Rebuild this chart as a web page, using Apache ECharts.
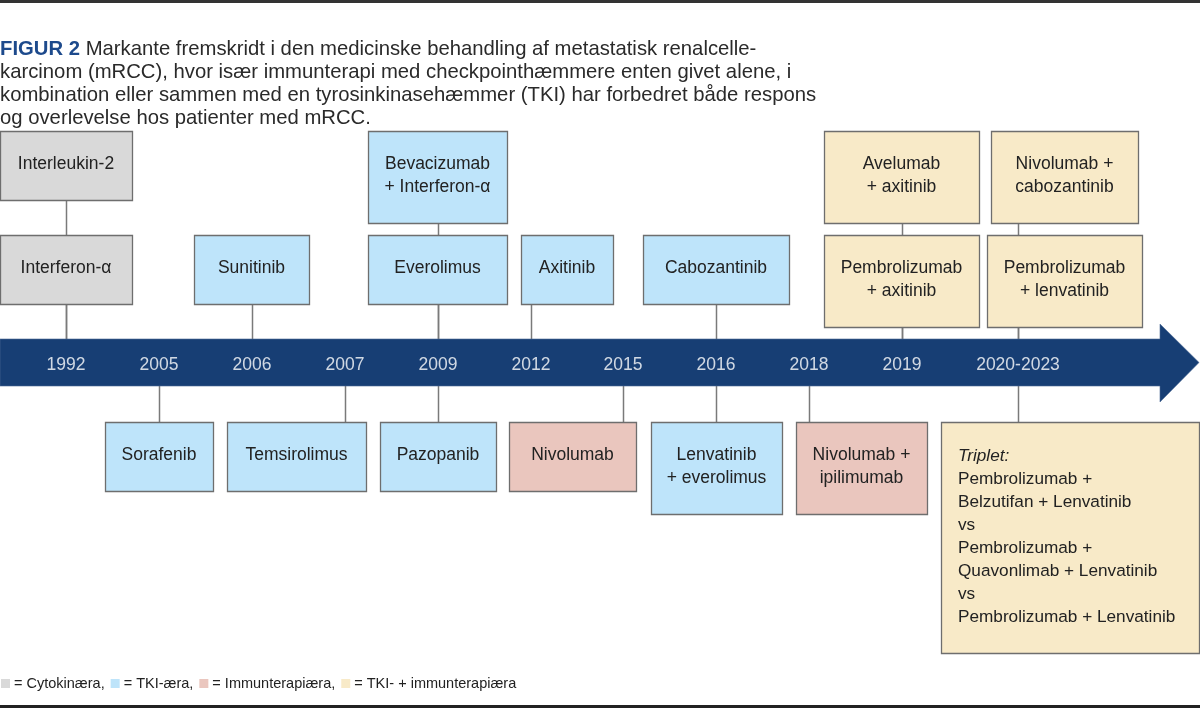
<!DOCTYPE html>
<html><head><meta charset="utf-8">
<script src="https://cdn.jsdelivr.net/npm/echarts@6/dist/echarts.min.js"></script>
<style>html,body{margin:0;padding:0;background:#fff}#c{width:1200px;height:708px}</style>
</head><body><div id="c"></div>
<script>
// ---------- data ----------
const years = ['1992','2005','2006','2007','2009','2012','2015','2016','2018','2019','2020-2023'];
const eras = ['Cytokinæra','TKI-æra','Immunterapiæra','TKI- + immunterapiæra'];
const treatments = [
  'Interleukin-2','Interferon-α','Sunitinib','Bevacizumab\n+ Interferon-α','Everolimus','Axitinib',
  'Cabozantinib','Avelumab\n+ axitinib','Pembrolizumab\n+ axitinib','Nivolumab +\ncabozantinib',
  'Pembrolizumab\n+ lenvatinib','Sorafenib','Temsirolimus','Pazopanib','Nivolumab',
  'Lenvatinib\n+ everolimus','Nivolumab +\nipilimumab',
  '{i|Triplet:}\nPembrolizumab +\nBelzutifan + Lenvatinib\nvs\nPembrolizumab +\nQuavonlimab + Lenvatinib\nvs\nPembrolizumab + Lenvatinib'
];
const treatmentYear = [0,0,2,4,4,5,7,9,9,10,10,1,3,4,6,7,8,10];
const treatmentEra  = [0,0,1,1,1,1,1,3,3,3,3,1,1,1,2,1,2,3];
const titleLines = [
  'Markante fremskridt i den medicinske behandling af metastatisk renalcelle-',
  'karcinom (mRCC), hvor især immunterapi med checkpointhæmmere enten givet alene, i',
  'kombination eller sammen med en tyrosinkinasehæmmer (TKI) har forbedret både respons',
  'og overlevelse hos patienter med mRCC.'
];

// ---------- layout (diagram units) ----------
const yearX = [66,159,252,345,438,531,623,716,809,902,1018];
const boxRect = [
  [0,131,132,200],[0,235,132,304],[194,235,309,304],[368,131,507,223],[368,235,507,304],
  [521,235,613,304],[643,235,789,304],[824,131,979,223],[824,235,979,327],[991,131,1138,223],
  [987,235,1142,327],[105,422,213,491],[227,422,366,491],[380,422,496,491],[509,422,636,491],
  [651,422,782,514],[796,422,927,514],[941,422,1199,653]
];
const arrow = {x0:0, x1:1160, top:339, bottom:386, headTop:324, headBottom:402, tip:1199};
const yearLabelY = 365;
const eraFill = ['#d9d9d9','#bee4fa','#eac6be','#f8eac8'];
const FONT = '"Liberation Sans", Arial, sans-serif';

// ---------- build ----------
const chart = echarts.init(document.getElementById('c'), null, {renderer:'canvas'});

const connectorData = treatments.map((t,i) => {
  const r = boxRect[i], x = yearX[treatmentYear[i]];
  return r[3] < arrow.top ? [x, r[3], arrow.top] : [x, arrow.bottom, r[1]];
});

const boxSeries = eras.map((era, e) => {
  const idx = treatments.map((t,i)=>i).filter(i => treatmentEra[i] === e);
  return {
    type:'custom', name: era, z: 3, silent: true,
    itemStyle:{color: eraFill[e]},
    data: idx.map(i => ({value: boxRect[i], name: treatments[i]})),
    renderItem: (params, api) => {
      const i = idx[params.dataIndex];
      const p0 = api.coord([api.value(0), api.value(1)]);
      const p1 = api.coord([api.value(2), api.value(3)]);
      const left = treatments[i].indexOf('{i|') === 0;
      const fs = left ? 17.2 : 17.5;
      return {
        type:'group', children:[
          {type:'rect', shape:{x:p0[0]+0.5, y:p0[1]+0.5, width:p1[0]-p0[0], height:p1[1]-p0[1]},
           style:{fill: eraFill[e], stroke:'#6e6e6e', lineWidth:1.3}},
          {type:'text', style:{
            text: treatments[i],
            x: left ? p0[0]+17 : (p0[0]+p1[0])/2,
            y: (p0[1]+p1[1])/2 - 1,
            align: left ? 'left' : 'center', verticalAlign:'middle',
            fontFamily: FONT, fontSize: fs, lineHeight: 23, fill:'#222',
            rich:{i:{fontStyle:'italic', fontFamily: FONT, fontSize:fs, lineHeight:23, fill:'#222'}}
          }}
        ]
      };
    }
  };
});

const option = {
  animation:false,
  backgroundColor:'#fff',
  grid:{left:0, right:0, top:0, bottom:0},
  xAxis:{type:'value', min:0, max:1200, show:false},
  yAxis:{type:'value', min:0, max:708, inverse:true, show:false},
  title:{
    left:0, top:38, padding:0,
    text: '{b|FIGUR 2} ' + titleLines.join('\n'),
    textStyle:{fontFamily: FONT, fontSize:20.3, fontWeight:'normal', color:'#2a2a2a', lineHeight:23,
      rich:{b:{fontFamily: FONT, fontSize:20.3, fontWeight:'bold', color:'#1d4a8c', lineHeight:23}}}
  },
  legend:{
    left:1, top:676, padding:0, itemWidth:9, itemHeight:9, itemGap:6, icon:'rect',
    selectedMode:false, data: eras,
    formatter: n => '= ' + n + (n === eras[eras.length-1] ? '' : ','),
    textStyle:{fontFamily: FONT, fontSize:14.5, color:'#222', padding:[0,0,0,-1]}
  },
  graphic:[
    {type:'rect', left:0, top:0, shape:{width:1200, height:3}, style:{fill:'#333'}},
    {type:'rect', left:0, bottom:0, shape:{width:1200, height:3}, style:{fill:'#222'}}
  ],
  series:[
    {
      type:'custom', name:'connectors', z:1, silent:true,
      data: connectorData,
      renderItem:(params, api) => {
        const a = api.coord([api.value(0), api.value(1)]);
        const b = api.coord([api.value(0), api.value(2)]);
        return {type:'line', shape:{x1:Math.round(a[0])+0.5, y1:a[1], x2:Math.round(b[0])+0.5, y2:b[1]},
                style:{stroke:'#7a7a7a', lineWidth:1.5}};
      }
    },
    {
      type:'custom', name:'arrow', z:2, silent:true,
      data:[[arrow.x0, arrow.x1, arrow.top, arrow.bottom, arrow.headTop, arrow.headBottom, arrow.tip]],
      renderItem:(params, api) => {
        const c = (x,y) => api.coord([x,y]);
        const v = i => api.value(i);
        const mid = (v(2)+v(3))/2;
        const pts = [c(v(0),v(2)), c(v(1),v(2)), c(v(1),v(4)), c(v(6),mid), c(v(1),v(5)), c(v(1),v(3)), c(v(0),v(3))];
        return {type:'polygon', shape:{points:pts}, style:{fill:'#173e74', stroke:'#4b6a95', lineWidth:0.6}};
      }
    },
    ...boxSeries,
    {
      type:'scatter', name:'years', z:4, silent:true, symbolSize:1,
      itemStyle:{color:'rgba(0,0,0,0)'},
      data: years.map((y,i) => ({name:y, value:[yearX[i], yearLabelY]})),
      label:{show:true, position:'inside', formatter:'{b}', color:'#fff',
             fontFamily: FONT, fontSize:17.5, lineHeight:20}
    }
  ]
};
chart.setOption(option);
</script>
</body></html>
